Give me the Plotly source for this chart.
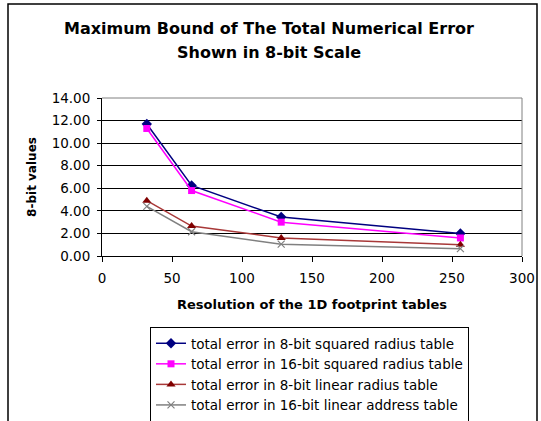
import plotly.graph_objects as go

resolution = [32, 64, 128, 256]
err_8bit_squared = [11.7, 6.25, 3.45, 2.0]
err_16bit_squared = [11.3, 5.8, 3.0, 1.6]
err_8bit_linear = [4.9, 2.65, 1.6, 1.0]
err_16bit_linear = [4.4, 2.15, 1.05, 0.65]

names = [
    "total error in 8-bit squared radius table",
    "total error in 16-bit squared radius table",
    "total error in 8-bit linear radius table",
    "total error in 16-bit linear address table",
]
title_lines = ["Maximum Bound of The Total Numerical Error", "Shown in 8-bit Scale"]

FONT = "DejaVu Sans, Arial, sans-serif"

fig = go.Figure()
fig.add_trace(go.Scatter(x=resolution, y=err_8bit_squared, name=names[0], mode="lines+markers",
                         line=dict(color="#000080", width=1.5),
                         marker=dict(symbol="diamond", size=8, color="#000080")))
fig.add_trace(go.Scatter(x=resolution, y=err_16bit_squared, name=names[1], mode="lines+markers",
                         line=dict(color="#FF00FF", width=1.5),
                         marker=dict(symbol="square", size=7, color="#FF00FF")))
fig.add_trace(go.Scatter(x=resolution, y=err_8bit_linear, name=names[2], mode="lines+markers",
                         line=dict(color="#A83838", width=1.5),
                         marker=dict(symbol="triangle-up", size=8, color="#800000")))
fig.add_trace(go.Scatter(x=resolution, y=err_16bit_linear, name=names[3], mode="lines+markers",
                         line=dict(color="#808080", width=1.5),
                         marker=dict(symbol="x-thin", size=7, color="#808080",
                                     line=dict(color="#808080", width=1.2))))

PL, PR, PT, PB = 102, 522, 98, 256
W, H = 541, 421

def px(x):
    return (x - PL) / (PR - PL)

def py(y):
    return (PB - y) / (PB - PT)

fig.update_layout(
    width=W, height=H,
    margin=dict(l=PL, r=W - PR, t=PT, b=H - PB, autoexpand=False),
    paper_bgcolor="white", plot_bgcolor="white",
    font=dict(family=FONT, size=13, color="black"),
    xaxis=dict(range=[0, 300], dtick=50, tick0=0, showgrid=False, zeroline=False,
               automargin=False,
               showline=True, linecolor="black", linewidth=1, ticks="outside", ticklen=5,
               tickcolor="black", ticklabelstandoff=5,
               tickfont=dict(family=FONT, size=13.5),
               title=dict(text="<b>Resolution of the 1D footprint tables</b>", standoff=14,
                          font=dict(family=FONT, size=13))),
    yaxis=dict(range=[0, 14], dtick=2, tick0=0, tickformat=".2f", showgrid=True,
               gridcolor="black", gridwidth=1, zeroline=False, automargin=False,
               showline=True, linecolor="black", linewidth=1, ticks="outside", ticklen=4,
               tickcolor="black", ticklabelstandoff=4,
               tickfont=dict(family=FONT, size=13.5),
               title=dict(text="<b>8-bit values</b>", standoff=12,
                          font=dict(family=FONT, size=12))),
    legend=dict(x=px(150), y=py(327), xanchor="left", yanchor="top",
                bordercolor="black", borderwidth=1, bgcolor="white",
                font=dict(family=FONT, size=13.5), tracegroupgap=0, itemwidth=30),
    showlegend=True,
)

for line, yc in zip(title_lines, [29, 52]):
    fig.add_annotation(text="<b>" + line + "</b>", xref="paper", yref="paper",
                       x=px(269), y=py(yc), xanchor="center", yanchor="middle",
                       showarrow=False, font=dict(family=FONT, size=16, color="black"))

# plot area right/top border (grey)
fig.add_shape(type="line", xref="paper", yref="paper", x0=0, x1=1, y0=1, y1=1,
              line=dict(color="#808080", width=1))
fig.add_shape(type="line", xref="paper", yref="paper", x0=1, x1=1, y0=0, y1=1,
              line=dict(color="#808080", width=1))
# chart frame
fig.add_shape(type="rect", xref="paper", yref="paper",
              x0=px(8), x1=px(537), y0=py(440), y1=py(4),
              line=dict(color="black", width=1.5), layer="below")

fig.write_html("out.html", config={"displayModeBar": False},
               post_script="document.body.style.margin='0';")
